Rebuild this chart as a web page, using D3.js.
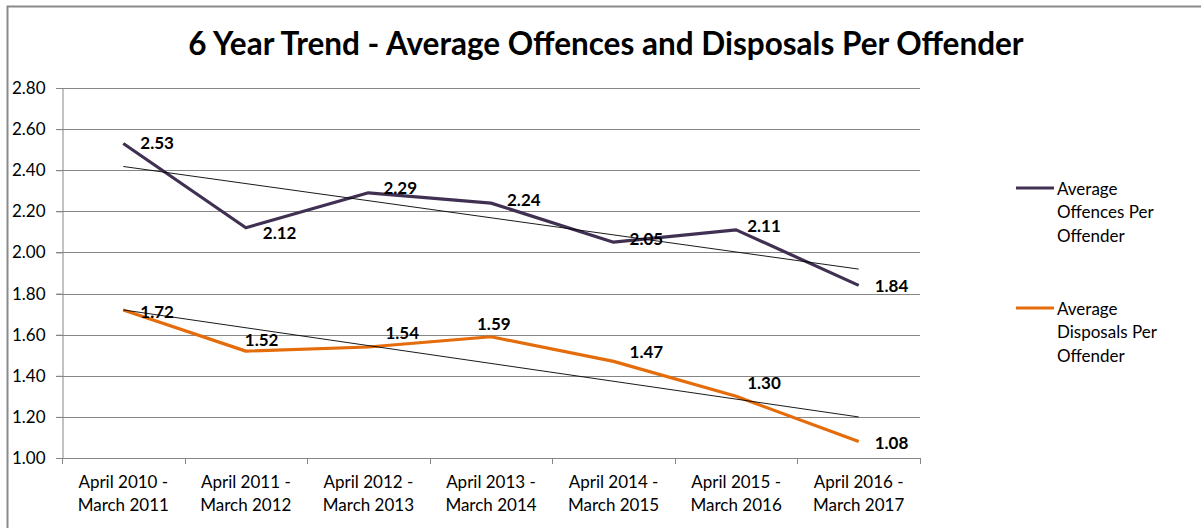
<!DOCTYPE html>
<html>
<head>
<meta charset="utf-8">
<script src="https://cdn.jsdelivr.net/npm/d3@7"></script>
<style>
  body { margin: 0; background: #fff; }
  svg { display: block; font-family: Lato, "Open Sans", sans-serif; }
</style>
</head>
<body>
<script>
var width = 1201
var height = 528

// data
var periods = [
    ["April 2010 -", "March 2011"],
    ["April 2011 -", "March 2012"],
    ["April 2012 -", "March 2013"],
    ["April 2013 -", "March 2014"],
    ["April 2014 -", "March 2015"],
    ["April 2015 -", "March 2016"],
    ["April 2016 -", "March 2017"]
]
var offences = [2.53, 2.12, 2.29, 2.24, 2.05, 2.11, 1.84]
var disposals = [1.72, 1.52, 1.54, 1.59, 1.47, 1.30, 1.08]
var yTicks = [1.00, 1.20, 1.40, 1.60, 1.80, 2.00, 2.20, 2.40, 2.60, 2.80]
var seriesNames = [["Average", "Offences Per", "Offender"], ["Average", "Disposals Per", "Offender"]]

// label nudges (px) relative to each point, as placed in the original
var offLabelDx = [17, 17, 15, 16, 16, 11, 16]
var offLabelDy = [0, 5, -5, -3, -3, -4, 1]
var disLabelDx = [17, -1, 17, -14, 16, 11, 16]
var disLabelDy = [2, -11, -14, -13, -9, -13, 1]

var colOff = "#403152"
var colDis = "#e46c0a"

var margin = {left: 62, right: 920, top: 88, bottom: 458}

var svg = d3.select("body").append("svg")
    .attr("width", width)
    .attr("height", height)

// outer frame (runs off the right and bottom)
svg.append("rect")
    .attr("x", 7.5).attr("y", 6.5)
    .attr("width", 1300).attr("height", 600)
    .attr("fill", "none")
    .attr("stroke", "#8a8a8a")
    .attr("stroke-width", 2)

svg.append("text")
    .attr("x", 606)
    .attr("y", 55)
    .attr("text-anchor", "middle")
    .style("font-size", "31.5px")
    .style("font-weight", "bold")
    .attr("fill", "#000")
    .text("6 Year Trend - Average Offences and Disposals Per Offender")

var x = d3.scaleBand()
    .domain(d3.range(periods.length))
    .range([margin.left, margin.right])

var y = d3.scaleLinear()
    .domain([1, 2.8])
    .range([margin.bottom, margin.top])

// gridlines
svg.append("g")
    .selectAll("line")
    .data(yTicks)
    .enter()
    .append("line")
    .attr("x1", margin.left - 6)
    .attr("x2", margin.right)
    .attr("y1", function(d) { return Math.round(y(d)) + 0.5 })
    .attr("y2", function(d) { return Math.round(y(d)) + 0.5 })
    .attr("stroke", function(d) { return d === 1 ? "#9a9a9a" : "#868686" })
    .attr("stroke-width", 1)

// y axis
var yAxis = d3.axisLeft(y)
    .tickValues(yTicks)
    .tickFormat(d3.format(".2f"))
    .tickSize(6)
svg.append("g")
    .attr("transform", "translate(" + (margin.left + 0.5) + ",0)")
    .call(yAxis)
    .call(function(g) {
        g.selectAll("path, line").attr("stroke", "#868686")
        g.selectAll("text")
            .attr("x", -17)
            .style("font-size", "17px")
            .style("font-family", "Lato, sans-serif")
            .attr("fill", "#000")
    })

// x axis: ticks between categories
var xAxisG = svg.append("g")
xAxisG.append("line")
    .attr("x1", margin.left).attr("x2", margin.right)
    .attr("y1", margin.bottom + 0.5).attr("y2", margin.bottom + 0.5)
    .attr("stroke", "#868686")
xAxisG.selectAll(".tk")
    .data(d3.range(periods.length + 1))
    .enter()
    .append("line")
    .attr("x1", function(i) { return Math.round(margin.left + i * x.bandwidth()) + 0.5 })
    .attr("x2", function(i) { return Math.round(margin.left + i * x.bandwidth()) + 0.5 })
    .attr("y1", margin.bottom)
    .attr("y2", margin.bottom + 6)
    .attr("stroke", "#868686")

var xl = xAxisG.selectAll(".xl")
    .data(periods)
    .enter()
    .append("text")
    .attr("text-anchor", "middle")
    .style("font-size", "17px")
    .attr("fill", "#000")
xl.append("tspan")
    .attr("x", function(d, i) { return x(i) + x.bandwidth() / 2 })
    .attr("y", 488)
    .text(function(d) { return d[0] })
xl.append("tspan")
    .attr("x", function(d, i) { return x(i) + x.bandwidth() / 2 })
    .attr("y", 511)
    .text(function(d) { return d[1] })

function cx(i) { return x(i) + x.bandwidth() / 2 }

var line = d3.line()
    .x(function(d, i) { return cx(i) })
    .y(function(d) { return y(d) })

// linear trendline from the series
function trend(vals) {
    var n = vals.length
    var xs = d3.range(n)
    var mx = d3.mean(xs), my = d3.mean(vals)
    var num = d3.sum(xs, function(i) { return (i - mx) * (vals[i] - my) })
    var den = d3.sum(xs, function(i) { return (i - mx) * (i - mx) })
    var b = num / den
    return [0, n - 1].map(function(i) { return {i: i, v: my + b * (i - mx)} })
}

function drawSeries(vals, color) {
    svg.append("path")
        .datum(vals)
        .attr("d", line)
        .attr("fill", "none")
        .attr("stroke", color)
        .attr("stroke-width", 3.2)
        .attr("stroke-linejoin", "round")

    svg.append("line")
        .datum(trend(vals))
        .attr("x1", function(d) { return cx(d[0].i) })
        .attr("y1", function(d) { return y(d[0].v) })
        .attr("x2", function(d) { return cx(d[1].i) })
        .attr("y2", function(d) { return y(d[1].v) })
        .attr("stroke", "#000")
        .attr("stroke-width", 0.9)
}

function drawLabels(vals, dxs, dys) {
    svg.append("g")
        .selectAll("text")
        .data(vals)
        .enter()
        .append("text")
        .attr("x", function(d, i) { return cx(i) + dxs[i] })
        .attr("y", function(d, i) { return y(d) + dys[i] })
        .attr("dy", "0.35em")
        .style("font-size", "17px")
        .style("font-weight", "bold")
        .attr("fill", "#000")
        .text(function(d) { return d.toFixed(2) })
}

drawSeries(offences, colOff)
drawSeries(disposals, colDis)
drawLabels(offences, offLabelDx, offLabelDy)
drawLabels(disposals, disLabelDx, disLabelDy)

// legend
var legendY = [188, 308]
var legendCol = [colOff, colDis]
seriesNames.forEach(function(name, k) {
    var g = svg.append("g")
    g.append("line")
        .attr("x1", 1016).attr("x2", 1054)
        .attr("y1", legendY[k]).attr("y2", legendY[k])
        .attr("stroke", legendCol[k])
        .attr("stroke-width", 3.2)
    var t = g.append("text")
        .style("font-size", "17px")
        .attr("fill", "#000")
    name.forEach(function(s, j) {
        t.append("tspan")
            .attr("x", 1057)
            .attr("y", legendY[k] + 7 + j * 23.4)
            .text(s)
    })
})
</script>
</body>
</html>
